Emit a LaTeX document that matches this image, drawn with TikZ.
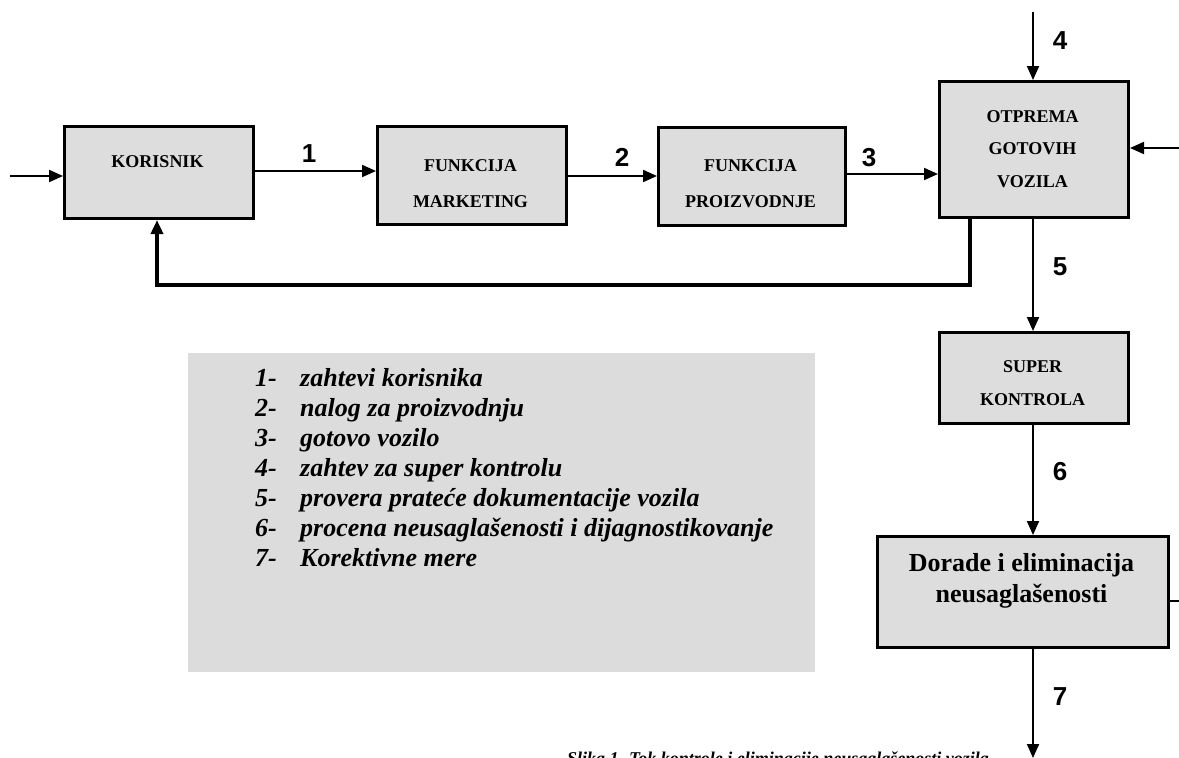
\documentclass[tikz,border=0pt]{standalone}
\usepackage{fontspec}
\setmainfont{Liberation Serif}
\newfontfamily\arialf{Liberation Sans}
\usetikzlibrary{arrows.meta}
\definecolor{boxgray}{HTML}{DDDDDD}
\definecolor{leggray}{HTML}{DCDCDC}
\begin{document}
\begin{tikzpicture}[x=1pt,y=-1pt,
  blk/.style={draw=black,line width=3pt,fill=boxgray,inner sep=0pt,anchor=north west},
  btxt/.style={font=\fontsize{18}{18}\selectfont\bfseries,anchor=base,inner sep=0pt},
  bigtxt/.style={font=\fontsize{26}{26}\selectfont\bfseries,anchor=base,inner sep=0pt},
  num/.style={font=\arialf\fontsize{26}{26}\selectfont\bfseries,inner sep=0pt},
  legtxt/.style={font=\fontsize{26}{26}\selectfont\bfseries\itshape,anchor=base west,inner sep=0pt},
  tipA/.style={-{Triangle[length=14pt,width=12pt]}},
  conn/.style={line width=2pt,tipA},
  fback/.style={line width=3.5pt,tipA},
]
\clip (0,0) rectangle (1179,758);
\fill[white] (0,0) rectangle (1179,758);

% boxes
\node[blk,minimum width=189pt,minimum height=92pt] (kor) at (63,125) {};
\node[blk,minimum width=189pt,minimum height=98pt] (mkt) at (376,125) {};
\node[blk,minimum width=187pt,minimum height=98pt] (pro) at (657,126) {};
\node[blk,minimum width=189pt,minimum height=136pt] (otp) at (938,80) {};
\node[blk,minimum width=189pt,minimum height=91pt] (sup) at (938,331) {};
\node[blk,minimum width=291pt,minimum height=111pt] (dor) at (876,535) {};

% box texts
\node[btxt] (korT) at (157.5,167) {KORISNIK};
\node[btxt] (mktT1) at (470.5,171) {FUNKCIJA};
\node[btxt] (mktT2) at (470.5,207) {MARKETING};
\node[btxt] (proT1) at (750.5,171) {FUNKCIJA};
\node[btxt] (proT2) at (750.5,207) {PROIZVODNJE};
\node[btxt] (otpT1) at (1032.5,122) {OTPREMA};
\node[btxt] (otpT2) at (1032.5,154) {GOTOVIH};
\node[btxt] (otpT3) at (1032.5,187) {VOZILA};
\node[btxt] (supT1) at (1032.5,372) {SUPER};
\node[btxt] (supT2) at (1032.5,405) {KONTROLA};
\node[bigtxt] (dorT1) at (1021.5,571) {Dorade i eliminacija};
\node[bigtxt] (dorT2) at (1021.5,602) {neusaglašenosti};

% free ends
\coordinate (inL) at (10,176);
\coordinate (in4) at (1033,12);
\coordinate (inR) at (1179,148);
\coordinate (outR) at (1179,601);
\coordinate (out7) at (1033,758);
\coordinate (fb1) at (970,285);
\coordinate (fb2) at (157,285);

% connectors
\draw[conn] (inL) -- (kor.west |- inL);
\draw[conn] (kor.east |- 0,171) -- (mkt.west |- 0,171);
\draw[conn] (mkt.east |- 0,176) -- (pro.west |- 0,176);
\draw[conn] (pro.east |- 0,174) -- (otp.west |- 0,174);
\draw[conn] (in4) -- (otp.north -| in4);
\draw[conn] (inR) -- (otp.east |- inR);
\draw[fback] (otp.south -| fb1) -- (fb1) -- (fb2) -- (kor.south -| fb2);
\draw[conn] (otp.south -| in4) -- (sup.north -| in4);
\draw[conn] (sup.south -| in4) -- (dor.north -| in4);
\draw[line width=2pt] (dor.east |- outR) -- (outR);
\draw[conn] (dor.south -| out7) -- (out7);

% connector labels
\node[num] (n1) at (309,154) {1};
\node[num] (n2) at (622,157) {2};
\node[num] (n3) at (869,158) {3};
\node[num] (n4) at (1060,41) {4};
\node[num] (n5) at (1060,267) {5};
\node[num] (n6) at (1060,472) {6};
\node[num] (n7) at (1060,697) {7};

% legend
\node[fill=leggray,minimum width=627pt,minimum height=319pt,anchor=north west,inner sep=0pt] (leg) at (188,353) {};
\foreach \k/\t [count=\i from 0] in {1/zahtevi korisnika,2/nalog za proizvodnju,3/gotovo vozilo,4/zahtev za super kontrolu,5/provera prateće dokumentacije vozila,6/procena neusaglašenosti i dijagnostikovanje,7/Korektivne mere}{
  \node[legtxt] (legN\k) at (255,386.7+30*\i) {\k-};
  \node[legtxt] (legT\k) at (300,386.7+30*\i) {\t};
}

% caption (cut by the page edge, as in the reference)
\node[font=\fontsize{18}{22}\selectfont\bfseries\itshape,anchor=base,inner sep=0pt] (cap) at (778,764) {Slika 1. Tok kontrole i eliminacije neusaglašenosti vozila};
\end{tikzpicture}
\end{document}
